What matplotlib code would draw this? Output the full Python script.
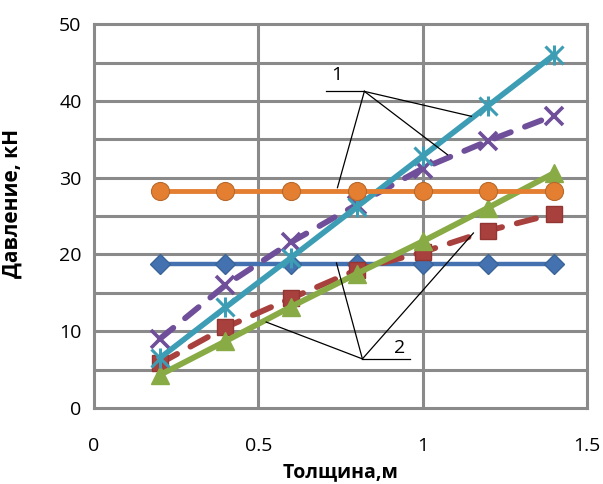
import matplotlib
matplotlib.use("Agg")
import matplotlib.pyplot as plt

plt.rcParams['font.family'] = ['Open Sans', 'DejaVu Sans']

x = [0.2, 0.4, 0.6, 0.8, 1.0, 1.2, 1.4]
blue = [18.7, 18.7, 18.7, 18.7, 18.7, 18.7, 18.7]
orange = [28.3, 28.3, 28.3, 28.3, 28.3, 28.3, 28.3]
cyan = [6.5, 13.1, 19.6, 26.2, 32.8, 39.4, 46.0]
purple = [9.0, 16.0, 21.6, 26.5, 31.2, 34.8, 38.1]
red = [5.8, 10.5, 14.3, 18.0, 20.3, 23.1, 25.3]
green = [4.3, 8.7, 13.2, 17.5, 21.7, 26.1, 30.6]

xticks = [0, 0.5, 1, 1.5]
xticklabels = ['0', '0.5', '1', '1.5']
yticks = [0, 10, 20, 30, 40, 50]
xlabel = 'Толщина,м'
ylabel = 'Давление, кН'

fig = plt.figure(figsize=(6.03, 4.84), dpi=100)
ax = fig.add_axes([0.156, 0.157, 0.817, 0.793])
ax.set_xlim(0, 1.5)
ax.set_ylim(0, 50)

gc = '#8a8a8a'
for yv in range(5, 50, 5):
    ax.axhline(yv, color=gc, lw=2.2, zorder=1)
for xv in [0.5, 1.0]:
    ax.axvline(xv, color=gc, lw=2.2, zorder=1)
for s in ax.spines.values():
    s.set_color(gc)
    s.set_linewidth(2.2)

c_blue = '#4472B0'
c_orange = '#E47F32'
c_cyan = '#3C9DB4'
c_purple = '#6F4F9A'
c_red = '#A8403D'
c_green = '#89AB45'

ax.plot(x, blue, color=c_blue, lw=3.2, marker='D', ms=10, mfc=c_blue, mec='#3a6498', zorder=3)
ax.plot(x, red, color=c_red, lw=4.2, ls=(0, (3.4, 2.6)), dash_capstyle='round',
        marker='s', ms=12, mfc=c_red, mec='#933633', zorder=4)
ax.plot(x, green, color=c_green, lw=4.2, marker='^', ms=13, mfc=c_green, mec=c_green, zorder=5)
ax.plot(x, purple, color=c_purple, lw=4.2, ls=(0, (3.0, 2.6)), dash_capstyle='round', zorder=6)
ax.plot(x, purple, ls='none', marker='x', ms=13, mew=2.6, mec=c_purple, zorder=6)
ax.plot(x, cyan, color=c_cyan, lw=4.0, zorder=7)
ax.plot(x, cyan, ls='none', marker='x', ms=13, mew=2.2, mec=c_cyan, zorder=7)
ax.plot(x, cyan, ls='none', marker='|', ms=15, mew=2.2, mec=c_cyan, zorder=7)
ax.plot(x, orange, color=c_orange, lw=3.5, marker='o', ms=13, mfc=c_orange, mec='#b8682a', mew=0.8, zorder=8)

# annotation leaders
ann = dict(color='black', lw=0.9, zorder=9)
v1 = (0.823, 41.25)
ax.plot([0.707, v1[0]], [v1[1], v1[1]], **ann)
for tx, ty in [(0.741, 28.7), (1.149, 38.0), (1.076, 33.0)]:
    ax.plot([v1[0], tx], [v1[1], ty], **ann)
ax.text(0.738, 42.2, '1', fontsize=14, ha='center', va='bottom', zorder=9)

v2 = (0.817, 6.4)
ax.plot([v2[0], 0.963], [v2[1], v2[1]], **ann)
for tx, ty in [(0.738, 18.9), (0.524, 11.2), (1.155, 22.8)]:
    ax.plot([v2[0], tx], [v2[1], ty], **ann)
ax.text(0.93, 6.7, '2', fontsize=14, ha='center', va='bottom', zorder=9)

ax.set_xticks(xticks)
ax.set_xticklabels(xticklabels)
ax.set_yticks(yticks)
ax.tick_params(axis='both', length=0, labelsize=14)
ax.tick_params(axis='x', pad=21)
ax.tick_params(axis='y', pad=9)
ax.set_xlabel(xlabel, fontsize=14, fontweight='bold', labelpad=5)
ax.set_ylabel(ylabel, fontsize=15, fontweight='bold')
ax.yaxis.set_label_coords(-0.146, 0.534)

fig.savefig('out.png', dpi=100)
